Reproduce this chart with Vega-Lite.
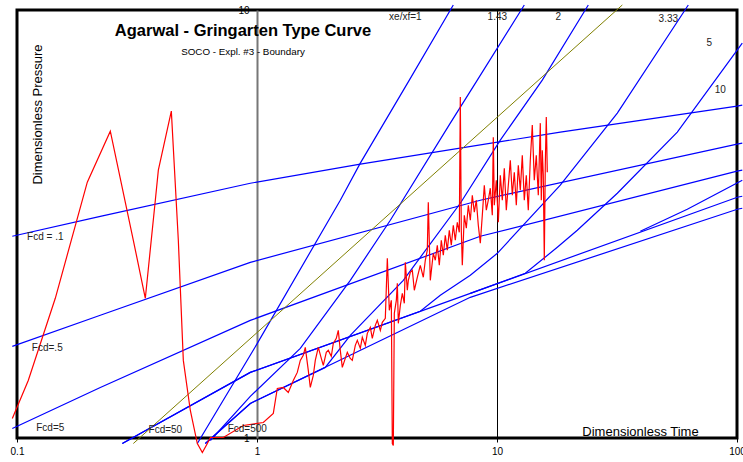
{
  "$schema": "https://vega.github.io/schema/vega-lite/v6.json",
  "width": 720,
  "height": 428,
  "autosize": {"type": "none"},
  "padding": {"left": 17, "top": 10, "right": 6, "bottom": 24},
  "background": "white",
  "config": {"view": {"stroke": "black", "strokeWidth": 3}, "font": "Liberation Sans"},
  "title": {"text": "Agarwal - Gringarten Type Curve", "subtitle": "SOCO - Expl. #3 - Boundary", "anchor": "middle", "dx": -134, "offset": -54, "fontSize": 16.5, "fontWeight": "bold", "subtitleFontSize": 9.8, "subtitlePadding": 7, "color": "black", "subtitleColor": "black", "font": "Liberation Sans", "subtitleFont": "Liberation Sans"},
  "datasets": {
    "blue": [
      {"c": "Fcd .1", "i": 0, "x": 0.0956, "y": 2.960}, {"c": "Fcd .1", "i": 1, "x": 0.2224, "y": 3.296}, {"c": "Fcd .1", "i": 2, "x": 0.9377, "y": 3.938}, {"c": "Fcd .1", "i": 3, "x": 2.694, "y": 4.363}, {"c": "Fcd .1", "i": 4, "x": 18.36, "y": 5.184}, {"c": "Fcd .1", "i": 5, "x": 100.1, "y": 5.962}, {"c": "Fcd .1", "i": 6, "x": 105.2, "y": 5.995},
      {"c": "Fcd .5", "i": 0, "x": 0.0956, "y": 1.637}, {"c": "Fcd .5", "i": 1, "x": 0.2224, "y": 1.935}, {"c": "Fcd .5", "i": 2, "x": 0.9377, "y": 2.573}, {"c": "Fcd .5", "i": 3, "x": 8.52, "y": 3.594}, {"c": "Fcd .5", "i": 4, "x": 100.1, "y": 4.859}, {"c": "Fcd .5", "i": 5, "x": 105.2, "y": 4.885},
      {"c": "Fcd 5", "i": 0, "x": 0.0956, "y": 1.0525}, {"c": "Fcd 5", "i": 1, "x": 0.2224, "y": 1.3125}, {"c": "Fcd 5", "i": 2, "x": 0.9377, "y": 1.883}, {"c": "Fcd 5", "i": 3, "x": 8.52, "y": 2.96}, {"c": "Fcd 5", "i": 4, "x": 100.1, "y": 4.201}, {"c": "Fcd 5", "i": 5, "x": 105.2, "y": 4.224},
      {"c": "Fcd 50", "i": 0, "x": 0.2747, "y": 0.9708}, {"c": "Fcd 50", "i": 1, "x": 0.9377, "y": 1.4231}, {"c": "Fcd 50", "i": 2, "x": 7.741, "y": 2.1777}, {"c": "Fcd 50", "i": 3, "x": 100.3, "y": 3.652}, {"c": "Fcd 50", "i": 4, "x": 105.2, "y": 3.672},
      {"c": "Fcd 500", "i": 0, "x": 0.6092, "y": 0.9708}, {"c": "Fcd 500", "i": 1, "x": 0.9377, "y": 1.2044}, {"c": "Fcd 500", "i": 2, "x": 7.741, "y": 2.1314}, {"c": "Fcd 500", "i": 3, "x": 100.3, "y": 3.4234}, {"c": "Fcd 500", "i": 4, "x": 105.2, "y": 3.442},
      {"c": "xe1", "i": 0, "x": 0.5641, "y": 0.9708}, {"c": "xe1", "i": 1, "x": 1.0029, "y": 1.6638}, {"c": "xe1", "i": 2, "x": 2.2236, "y": 3.5938}, {"c": "xe1", "i": 3, "x": 2.6943, "y": 4.3866}, {"c": "xe1", "i": 4, "x": 4.312, "y": 6.859}, {"c": "xe1", "i": 5, "x": 6.575, "y": 10.273},
      {"c": "xe143", "i": 0, "x": 0.6392, "y": 0.9866}, {"c": "xe143", "i": 1, "x": 0.9377, "y": 1.2507}, {"c": "xe143", "i": 2, "x": 1.5149, "y": 1.6197}, {"c": "xe143", "i": 3, "x": 2.4477, "y": 2.3357}, {"c": "xe143", "i": 4, "x": 3.5934, "y": 3.2264}, {"c": "xe143", "i": 5, "x": 6.3888, "y": 5.4414}, {"c": "xe143", "i": 6, "x": 8.278, "y": 6.859}, {"c": "xe143", "i": 7, "x": 12.994, "y": 10.273},
      {"c": "xe2", "i": 0, "x": 0.6092, "y": 0.9708}, {"c": "xe2", "i": 1, "x": 0.9377, "y": 1.2044}, {"c": "xe2", "i": 2, "x": 1.9257, "y": 1.462}, {"c": "xe2", "i": 3, "x": 2.4477, "y": 1.7371}, {"c": "xe2", "i": 4, "x": 4.0709, "y": 2.3357}, {"c": "xe2", "i": 5, "x": 7.0322, "y": 3.5358}, {"c": "xe2", "i": 6, "x": 10.322, "y": 4.9648}, {"c": "xe2", "i": 7, "x": 15.442, "y": 6.859}, {"c": "xe2", "i": 8, "x": 24.012, "y": 10.273},
      {"c": "xe333", "i": 0, "x": 0.2747, "y": 0.9708}, {"c": "xe333", "i": 1, "x": 0.9377, "y": 1.4231}, {"c": "xe333", "i": 2, "x": 4.7909, "y": 1.9768}, {"c": "xe333", "i": 3, "x": 5.8045, "y": 2.1544}, {"c": "xe333", "i": 4, "x": 7.741, "y": 2.3995}, {"c": "xe333", "i": 5, "x": 10.029, "y": 2.7012}, {"c": "xe333", "i": 6, "x": 18.355, "y": 3.8961}, {"c": "xe333", "i": 7, "x": 31.72, "y": 5.742}, {"c": "xe333", "i": 8, "x": 62.674, "y": 10.273},
      {"c": "xe5", "i": 0, "x": 7.741, "y": 2.1777}, {"c": "xe5", "i": 1, "x": 13.12, "y": 2.4254}, {"c": "xe5", "i": 2, "x": 17.834, "y": 2.79}, {"c": "xe5", "i": 3, "x": 21.605, "y": 3.0573}, {"c": "xe5", "i": 4, "x": 31.72, "y": 3.7319}, {"c": "xe5", "i": 5, "x": 56.398, "y": 5.1836}, {"c": "xe5", "i": 6, "x": 105.2, "y": 8.3715},
      {"c": "xe10", "i": 0, "x": 39.554, "y": 3.0409}, {"c": "xe10", "i": 1, "x": 62.075, "y": 3.4234}, {"c": "xe10", "i": 2, "x": 105.2, "y": 4.0025}
    ],
    "olive": [
      {"i": 0, "x": 0.3053, "y": 0.9708}, {"i": 1, "x": 33.28, "y": 10.273}
    ],
    "field": [
      {"i": 0, "x": 0.0956, "y": 1.1107}, {"i": 1, "x": 0.1114, "y": 1.363}, {"i": 2, "x": 0.1444, "y": 2.1202}, {"i": 3, "x": 0.1963, "y": 3.9597}, {"i": 4, "x": 0.2448, "y": 5.2114}, {"i": 5, "x": 0.3053, "y": 2.8971}, {"i": 6, "x": 0.3425, "y": 2.1202}, {"i": 7, "x": 0.377, "y": 3.5938}, {"i": 8, "x": 0.3881, "y": 4.224}, {"i": 9, "x": 0.4396, "y": 5.8044},
      {"i": 10, "x": 0.4701, "y": 2.8971}, {"i": 11, "x": 0.4932, "y": 1.5182}, {"i": 12, "x": 0.5275, "y": 1.1597}, {"i": 13, "x": 0.5641, "y": 0.9708}, {"i": 14, "x": 0.5919, "y": 0.9249}, {"i": 15, "x": 0.621, "y": 0.9708}, {"i": 16, "x": 0.6392, "y": 1.0027}, {"i": 17, "x": 0.724, "y": 1.0027}, {"i": 18, "x": 0.8772, "y": 1.0696}, {"i": 19, "x": 1.0623, "y": 1.0871},
      {"i": 20, "x": 1.1694, "y": 1.1411}, {"i": 21, "x": 1.215, "y": 1.3055}, {"i": 22, "x": 1.287, "y": 1.3125}, {"i": 23, "x": 1.3502, "y": 1.2777}, {"i": 24, "x": 1.4165, "y": 1.363}, {"i": 25, "x": 1.4719, "y": 1.4231}, {"i": 26, "x": 1.5149, "y": 1.5182}, {"i": 27, "x": 1.5591, "y": 1.5597}, {"i": 28, "x": 1.5893, "y": 1.6283}, {"i": 29, "x": 1.6358, "y": 1.4385},
      {"i": 30, "x": 1.6675, "y": 1.3125}, {"i": 31, "x": 1.7162, "y": 1.4003}, {"i": 32, "x": 1.7494, "y": 1.5182}, {"i": 33, "x": 1.8006, "y": 1.6283}, {"i": 34, "x": 1.8532, "y": 1.5346}, {"i": 35, "x": 1.8891, "y": 1.4778}, {"i": 36, "x": 1.9442, "y": 1.5851}, {"i": 37, "x": 1.9819, "y": 1.6022}, {"i": 38, "x": 2.0398, "y": 1.5513}, {"i": 39, "x": 2.0793, "y": 1.6637},
      {"i": 40, "x": 2.14, "y": 1.7092}, {"i": 41, "x": 2.1813, "y": 1.7844}, {"i": 42, "x": 2.2236, "y": 1.6022}, {"i": 43, "x": 2.2667, "y": 1.462}, {"i": 44, "x": 2.3329, "y": 1.5346}, {"i": 45, "x": 2.3783, "y": 1.5851}, {"i": 46, "x": 2.4477, "y": 1.5346}, {"i": 47, "x": 2.4951, "y": 1.5182}, {"i": 48, "x": 2.568, "y": 1.6459}, {"i": 49, "x": 2.6178, "y": 1.6909},
      {"i": 50, "x": 2.6943, "y": 1.6197}, {"i": 51, "x": 2.7465, "y": 1.7185}, {"i": 52, "x": 2.8267, "y": 1.6459}, {"i": 53, "x": 2.8814, "y": 1.7559}, {"i": 54, "x": 2.9655, "y": 1.8136}, {"i": 55, "x": 3.0229, "y": 1.7092}, {"i": 56, "x": 3.1112, "y": 1.8332}, {"i": 57, "x": 3.172, "y": 1.8832}, {"i": 58, "x": 3.2646, "y": 1.7844}, {"i": 59, "x": 3.3278, "y": 1.8631},
      {"i": 60, "x": 3.425, "y": 1.9035}, {"i": 61, "x": 3.4915, "y": 2.6295}, {"i": 62, "x": 3.5591, "y": 1.9875}, {"i": 63, "x": 3.628, "y": 2.0975}, {"i": 64, "x": 3.663, "y": 0.9708}, {"i": 65, "x": 3.6983, "y": 0.9604}, {"i": 66, "x": 3.734, "y": 1.9555}, {"i": 67, "x": 3.8065, "y": 2.0975}, {"i": 68, "x": 3.8432, "y": 2.2984}, {"i": 69, "x": 3.8802, "y": 1.853},
      {"i": 70, "x": 3.9554, "y": 2.0418}, {"i": 71, "x": 4.032, "y": 2.1777}, {"i": 72, "x": 4.1101, "y": 2.0638}, {"i": 73, "x": 4.1498, "y": 2.5736}, {"i": 74, "x": 4.23, "y": 2.2134}, {"i": 75, "x": 4.2709, "y": 2.3357}, {"i": 76, "x": 4.3536, "y": 2.4388}, {"i": 77, "x": 4.4379, "y": 2.4651}, {"i": 78, "x": 4.5239, "y": 2.2134}, {"i": 79, "x": 4.6549, "y": 2.3739},
      {"i": 80, "x": 4.7909, "y": 2.5323}, {"i": 81, "x": 4.9308, "y": 2.3739}, {"i": 82, "x": 5.0263, "y": 2.6014}, {"i": 83, "x": 5.1235, "y": 2.7453}, {"i": 84, "x": 5.1729, "y": 3.5554}, {"i": 85, "x": 5.2731, "y": 2.3357}, {"i": 86, "x": 5.3752, "y": 2.5736}, {"i": 87, "x": 5.4271, "y": 2.7012}, {"i": 88, "x": 5.5322, "y": 2.6014}, {"i": 89, "x": 5.6398, "y": 2.8201},
      {"i": 90, "x": 5.7491, "y": 2.5323}, {"i": 91, "x": 5.8605, "y": 2.8971}, {"i": 92, "x": 5.974, "y": 2.6723}, {"i": 93, "x": 6.0897, "y": 2.9761}, {"i": 94, "x": 6.2075, "y": 2.7453}, {"i": 95, "x": 6.3278, "y": 3.0573}, {"i": 96, "x": 6.4504, "y": 2.8201}, {"i": 97, "x": 6.5753, "y": 3.1408}, {"i": 98, "x": 6.7027, "y": 2.8971}, {"i": 99, "x": 6.8327, "y": 3.1919},
      {"i": 100, "x": 6.9651, "y": 3.0246}, {"i": 101, "x": 7.0322, "y": 6.259}, {"i": 102, "x": 7.1, "y": 3.0573}, {"i": 103, "x": 7.1684, "y": 2.5323}, {"i": 104, "x": 7.3073, "y": 3.3146}, {"i": 105, "x": 7.4489, "y": 3.0903}, {"i": 106, "x": 7.5939, "y": 3.498}, {"i": 107, "x": 7.741, "y": 3.2264}, {"i": 108, "x": 7.8909, "y": 3.692}, {"i": 109, "x": 8.0438, "y": 3.3686},
      {"i": 110, "x": 8.1997, "y": 3.5938}, {"i": 111, "x": 8.3582, "y": 3.1408}, {"i": 112, "x": 8.5201, "y": 2.8506}, {"i": 113, "x": 8.6851, "y": 3.3146}, {"i": 114, "x": 8.8534, "y": 3.8961}, {"i": 115, "x": 9.0249, "y": 3.405}, {"i": 116, "x": 9.1995, "y": 3.5938}, {"i": 117, "x": 9.3777, "y": 3.8337}, {"i": 118, "x": 9.5594, "y": 3.3146}, {"i": 119, "x": 9.6515, "y": 5.0458},
      {"i": 120, "x": 9.7446, "y": 3.498}, {"i": 121, "x": 9.9335, "y": 4.0025}, {"i": 122, "x": 10.126, "y": 3.1919}, {"i": 123, "x": 10.322, "y": 4.1117}, {"i": 124, "x": 10.522, "y": 3.5938}, {"i": 125, "x": 10.726, "y": 4.2697}, {"i": 126, "x": 10.934, "y": 3.405}, {"i": 127, "x": 11.146, "y": 3.8961}, {"i": 128, "x": 11.362, "y": 4.4576}, {"i": 129, "x": 11.582, "y": 3.692},
      {"i": 130, "x": 11.806, "y": 4.1789}, {"i": 131, "x": 12.035, "y": 3.498}, {"i": 132, "x": 12.267, "y": 4.3393}, {"i": 133, "x": 12.505, "y": 3.7927}, {"i": 134, "x": 12.747, "y": 4.5794}, {"i": 135, "x": 12.994, "y": 3.5938}, {"i": 136, "x": 13.246, "y": 4.1117}, {"i": 137, "x": 13.502, "y": 3.405}, {"i": 138, "x": 13.763, "y": 4.4576}, {"i": 139, "x": 14.03, "y": 5.3827},
      {"i": 140, "x": 14.301, "y": 4.0025}, {"i": 141, "x": 14.578, "y": 4.5794}, {"i": 142, "x": 14.861, "y": 3.692}, {"i": 143, "x": 15.149, "y": 5.4408}, {"i": 144, "x": 15.295, "y": 3.5938}, {"i": 145, "x": 15.442, "y": 4.7044}, {"i": 146, "x": 15.591, "y": 4.1117}, {"i": 147, "x": 15.742, "y": 2.6014}, {"i": 148, "x": 15.893, "y": 4.3393}, {"i": 149, "x": 16.047, "y": 5.6199},
      {"i": 150, "x": 16.201, "y": 4.1789}
    ],
    "labels": [
      {"t": "xe/xf=1", "x": 4.15, "y": 9.63}, {"t": "1.43", "x": 10.029, "y": 9.63}, {"t": "2", "x": 18.006, "y": 9.63}, {"t": "3.33", "x": 51.73, "y": 9.527}, {"t": "5", "x": 76.67, "y": 8.3715}, {"t": "10", "x": 85.2, "y": 6.4994},
      {"t": "Fcd = .1", "x": 0.1312, "y": 2.9443}, {"t": "Fcd=.5", "x": 0.1337, "y": 1.6195}, {"t": "Fcd=5", "x": 0.1376, "y": 1.0525}, {"t": "Fcd=50", "x": 0.415, "y": 1.0412}, {"t": "Fcd=500", "x": 0.9111, "y": 1.0468}
    ]
  },
  "encoding": {
    "x": {"field": "x", "type": "quantitative", "scale": {"type": "log", "domain": [0.1, 100], "nice": false},
      "axis": {"values": [0.1, 1, 10, 100], "format": "~g", "title": "Dimensionless Time", "titleX": 623, "titleY": -7, "titleAlign": "center", "titleBaseline": "middle", "titleFontSize": 13, "titleFontWeight": "normal", "titleColor": "black", "titleFont": "Liberation Sans", "labelFont": "Liberation Sans", "labelFontSize": 10, "labelColor": "black", "labelFlush": false, "labelOverlap": false, "labelPadding": 4, "tickSize": 4, "tickColor": "black", "domain": false, "grid": true, "gridColor": "black", "gridWidth": 1, "gridOpacity": 1}},
    "y": {"field": "y", "type": "quantitative", "scale": {"type": "log", "domain": [1, 10], "nice": false},
      "axis": {"values": [1, 10], "format": "~g", "title": "Dimensionless Pressure", "offset": -240, "titleX": -220, "titleY": 104, "titleAngle": -90, "titleAlign": "center", "titleBaseline": "middle", "titleFontSize": 13, "titleFontWeight": "normal", "titleColor": "black", "titleFont": "Liberation Sans", "labelFont": "Liberation Sans", "labelFontSize": 10, "labelColor": "black", "labelFlush": false, "labelPadding": 8, "ticks": false, "domainColor": "#777777", "domainWidth": 2, "grid": false}}
  },
  "layer": [
    {"data": {"name": "blue"}, "mark": {"type": "line", "color": "#0000ff", "strokeWidth": 1.2}, "encoding": {"detail": {"field": "c", "type": "nominal"}, "order": {"field": "i", "type": "quantitative"}}},
    {"data": {"name": "olive"}, "mark": {"type": "line", "color": "#808000", "strokeWidth": 1}, "encoding": {"order": {"field": "i", "type": "quantitative"}}},
    {"data": {"name": "field"}, "mark": {"type": "line", "color": "#ff0000", "strokeWidth": 1.2}, "encoding": {"order": {"field": "i", "type": "quantitative"}}},
    {"data": {"name": "labels"}, "mark": {"type": "text", "fontSize": 10, "font": "Liberation Sans", "color": "#222222", "align": "center", "baseline": "middle"}, "encoding": {"text": {"field": "t", "type": "nominal"}}}
  ]
}
